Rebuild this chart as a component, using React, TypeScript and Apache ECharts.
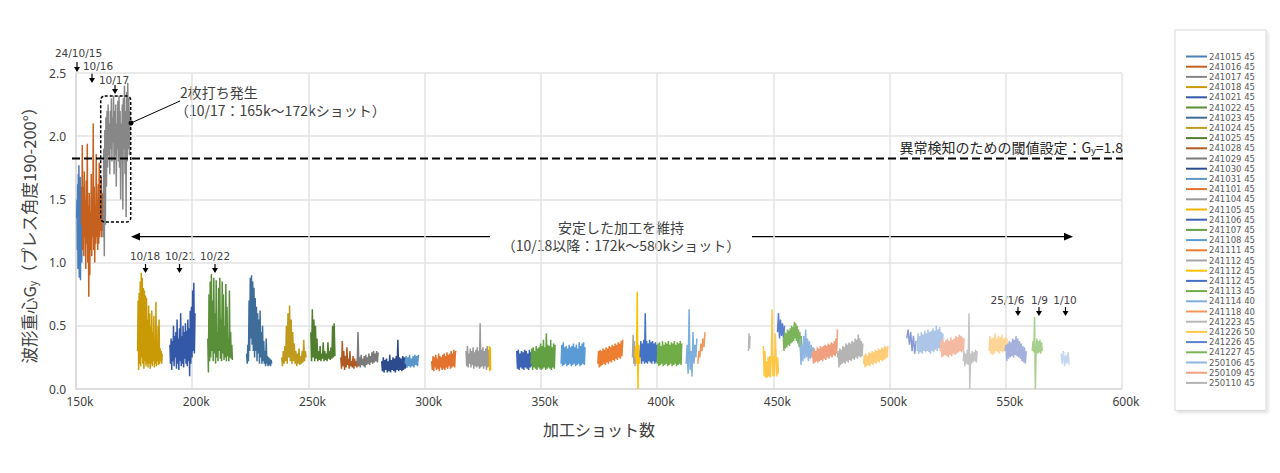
import { useEffect, useRef } from "react";
import * as echarts from "echarts";

// ---------- data ----------
const X_MIN = 150;
const X_MAX = 600;
const X_STEP = 50;
const Y_MIN = 0;
const Y_MAX = 2.5;
const Y_STEP = 0.5;

const SERIES_NAMES = [
  "241015 45", "241016 45", "241017 45", "241018 45", "241021 45", "241022 45",
  "241023 45", "241024 45", "241025 45", "241028 45", "241029 45", "241030 45",
  "241031 45", "241101 45", "241104 45", "241105 45", "241106 45", "241107 45",
  "241108 45", "241111 45", "241112 45|a", "241112 45|b", "241112 45|c", "241113 45",
  "241114 40", "241118 40", "241223 45", "241226 50", "241226 45", "241227 45",
  "250106 45", "250109 45", "250110 45",
  "s34", "s35", "s36", "s37", "s38", "s39", "s40", "s41", "s42",
];
const LEGEND_COUNT = 33;

// shot range of each series, in thousands of shots
const SHOT_RANGES: [number, number][] = [
  [150.3, 152.9], [152.5, 161.7], [161.7, 173.2], [176.5, 187.1], [190.4, 201.2], [206.7, 217.3],
  [223.4, 234.2], [238.5, 249.0], [251.0, 261.4], [263.9, 271.5], [271.0, 280.0], [281.5, 292.3],
  [291.6, 297.3], [303.0, 313.5], [317.8, 327.8], [327.8, 328.4], [339.6, 346.1], [345.8, 356.1],
  [358.7, 369.0], [374.5, 385.2], [389.4, 390.8], [390.5, 392.7], [392.7, 399.9], [400.1, 410.6],
  [412.5, 417.1], [417.5, 420.6], [439.3, 440.0], [445.7, 452.2], [451.8, 454.8], [454.3, 462.3],
  [461.5, 467.5], [466.6, 477.6], [477.6, 488.5],
  [488.8, 499.3], [507.4, 511.4], [511.9, 523.0], [521.8, 532.1], [531.7, 537.7], [542.8, 550.6],
  [549.7, 558.8], [561.4, 565.7], [573.8, 577.3],
];

const G241015 = [1.35, 1.5, 1.1, 1.62, 0.95, 1.7, 1.2, 1.77, 0.88, 1.55, 1.05, 1.68, 0.86, 1.45, 1.15, 1.6, 1.0, 1.5, 1.2, 1.4];
const G241016 = [1.3, 1.93, 1.1, 1.6, 1.05, 1.72, 1.2, 1.5, 0.95, 1.65, 1.15, 1.94, 1.0, 1.45, 0.73, 1.55, 0.9, 1.4, 1.1, 1.7, 1.05, 1.5, 1.2, 2.1, 1.1, 1.6, 1.0, 1.45, 1.15, 1.86, 1.2, 1.5, 1.1, 1.62, 1.15, 1.79, 1.2, 1.5, 1.25, 1.68, 1.2, 1.55, 1.25, 1.45];
const G241017 = [1.2, 1.9, 1.05, 2.05, 1.3, 2.15, 1.6, 2.2, 1.75, 2.25, 1.85, 2.1, 1.7, 2.2, 1.9, 2.3, 1.8, 2.15, 1.95, 2.32, 1.7, 2.2, 1.85, 2.25, 1.6, 2.1, 1.9, 2.28, 1.8, 2.32, 1.75, 2.2, 1.5, 2.1, 1.85, 2.25, 1.42, 2.3, 1.9, 2.4, 1.7, 2.2, 1.36, 2.35, 1.8, 2.42, 1.9, 2.3, 1.85, 2.2];
const G241018 = [0.3, 0.7, 0.15, 0.76, 0.2, 0.85, 0.18, 0.92, 0.25, 0.88, 0.2, 0.8, 0.16, 0.78, 0.22, 0.74, 0.18, 0.72, 0.2, 0.55, 0.17, 0.66, 0.2, 0.6, 0.16, 0.5, 0.2, 0.62, 0.18, 0.45, 0.22, 0.58, 0.17, 0.4, 0.2, 0.69, 0.18, 0.35, 0.22, 0.5, 0.19, 0.55, 0.2, 0.32, 0.22, 0.3, 0.2, 0.28];
const G241021 = [0.35, 0.2, 0.4, 0.15, 0.38, 0.22, 0.5, 0.18, 0.42, 0.25, 0.45, 0.16, 0.55, 0.2, 0.4, 0.15, 0.48, 0.22, 0.6, 0.18, 0.42, 0.2, 0.5, 0.17, 0.45, 0.24, 0.52, 0.2, 0.46, 0.18, 0.55, 0.22, 0.48, 0.1, 0.62, 0.2, 0.65, 0.25, 0.78, 0.3, 0.84, 0.28, 0.6];
const G241022 = [0.4, 0.13, 0.75, 0.22, 0.85, 0.25, 0.91, 0.3, 0.7, 0.22, 0.88, 0.28, 0.6, 0.2, 0.86, 0.25, 0.45, 0.22, 0.8, 0.3, 0.88, 0.24, 0.55, 0.22, 0.85, 0.28, 0.75, 0.23, 0.5, 0.25, 0.83, 0.22, 0.65, 0.26, 0.4, 0.22, 0.78, 0.25, 0.45, 0.24, 0.35, 0.23];
const G241023 = [0.28, 0.2, 0.35, 0.22, 0.7, 0.3, 0.88, 0.4, 0.9, 0.35, 0.85, 0.3, 0.8, 0.25, 0.72, 0.3, 0.65, 0.22, 0.6, 0.28, 0.55, 0.2, 0.62, 0.25, 0.45, 0.2, 0.5, 0.22, 0.38, 0.2, 0.3, 0.18, 0.4, 0.2, 0.26, 0.18, 0.25, 0.19, 0.24, 0.18, 0.23, 0.2];
const G241024 = [0.25, 0.18, 0.3, 0.2, 0.34, 0.22, 0.5, 0.2, 0.6, 0.25, 0.66, 0.22, 0.55, 0.2, 0.45, 0.22, 0.36, 0.2, 0.3, 0.18, 0.28, 0.2, 0.32, 0.19, 0.26, 0.2, 0.3, 0.21, 0.39, 0.22, 0.3, 0.25];
const G241025 = [0.45, 0.22, 0.63, 0.25, 0.55, 0.22, 0.5, 0.24, 0.4, 0.22, 0.3, 0.23, 0.34, 0.22, 0.28, 0.24, 0.37, 0.22, 0.3, 0.23, 0.28, 0.22, 0.37, 0.24, 0.3, 0.23, 0.33, 0.24, 0.5, 0.25, 0.52, 0.26];
const G241028 = [0.25, 0.16, 0.38, 0.18, 0.3, 0.15, 0.26, 0.17, 0.33, 0.19, 0.24, 0.16, 0.3, 0.18, 0.22, 0.17, 0.26, 0.16, 0.24, 0.18, 0.22, 0.17, 0.24, 0.18];
const G241029 = [0.2, 0.45, 0.18, 0.25, 0.17, 0.27, 0.19, 0.24, 0.18, 0.26, 0.17, 0.27, 0.19, 0.25, 0.2, 0.28, 0.19, 0.26, 0.21, 0.29, 0.2, 0.3, 0.21, 0.28, 0.22, 0.3, 0.21, 0.29];
const G241030 = [0.22, 0.14, 0.25, 0.13, 0.23, 0.15, 0.24, 0.13, 0.22, 0.14, 0.27, 0.13, 0.23, 0.15, 0.25, 0.14, 0.24, 0.13, 0.26, 0.15, 0.39, 0.14, 0.25, 0.15, 0.24, 0.14, 0.26, 0.15, 0.25, 0.16, 0.24, 0.17];
const G241031 = [0.2, 0.26, 0.17, 0.25, 0.18, 0.27, 0.17, 0.24, 0.18, 0.26, 0.17, 0.27, 0.19, 0.26, 0.18, 0.27];
const G241101 = [0.22, 0.15, 0.26, 0.14, 0.25, 0.17, 0.27, 0.15, 0.24, 0.16, 0.28, 0.14, 0.26, 0.17, 0.25, 0.15, 0.27, 0.16, 0.28, 0.15, 0.26, 0.17, 0.29, 0.16, 0.27, 0.18, 0.28, 0.16, 0.3, 0.17, 0.28, 0.18, 0.31, 0.17, 0.29, 0.3];
const G241104 = [0.3, 0.18, 0.34, 0.17, 0.28, 0.2, 0.32, 0.17, 0.3, 0.19, 0.33, 0.16, 0.29, 0.18, 0.31, 0.17, 0.33, 0.18, 0.3, 0.16, 0.52, 0.17, 0.31, 0.18, 0.33, 0.16, 0.3, 0.18, 0.32, 0.15, 0.34, 0.17, 0.31, 0.18];
const G241105 = [0.34, 0.14, 0.33, 0.15];
const G241106 = [0.3, 0.16, 0.31, 0.15, 0.28, 0.17, 0.3, 0.16, 0.29, 0.15, 0.31, 0.17, 0.3, 0.16, 0.28, 0.15, 0.31, 0.17, 0.29, 0.18];
const G241107 = [0.2, 0.32, 0.15, 0.33, 0.17, 0.3, 0.16, 0.34, 0.15, 0.32, 0.17, 0.33, 0.16, 0.36, 0.15, 0.34, 0.16, 0.39, 0.17, 0.33, 0.15, 0.44, 0.16, 0.35, 0.17, 0.34, 0.16, 0.39, 0.15, 0.33, 0.17, 0.36, 0.16, 0.35];
const G241108 = [0.2, 0.35, 0.18, 0.37, 0.19, 0.33, 0.2, 0.34, 0.18, 0.32, 0.19, 0.35, 0.2, 0.33, 0.18, 0.34, 0.19, 0.36, 0.2, 0.33, 0.18, 0.35, 0.19, 0.32, 0.2, 0.37, 0.18, 0.34, 0.19, 0.36, 0.2, 0.37, 0.19, 0.33];
const G241111 = [0.2, 0.3, 0.17, 0.31, 0.18, 0.3, 0.19, 0.32, 0.2, 0.31, 0.19, 0.33, 0.21, 0.32, 0.2, 0.34, 0.22, 0.33, 0.21, 0.35, 0.23, 0.34, 0.22, 0.36, 0.24, 0.35, 0.23, 0.37, 0.25, 0.36, 0.24, 0.38, 0.26, 0.39];
const G241112A = [0.25, 0.43, 0.2, 0.38, 0.18, 0.3];
const G241112B = [0.25, 0.34, 0.2, 0.77, 0.0, 0.35, 0.2, 0.3];
const G241112C = [0.25, 0.38, 0.2, 0.36, 0.22, 0.39, 0.2, 0.6, 0.21, 0.38, 0.2, 0.36, 0.22, 0.39, 0.21, 0.37, 0.2, 0.38, 0.22, 0.36, 0.2, 0.37, 0.21, 0.35];
const G241113 = [0.2, 0.36, 0.18, 0.37, 0.19, 0.34, 0.2, 0.38, 0.18, 0.35, 0.19, 0.37, 0.2, 0.36, 0.18, 0.38, 0.19, 0.35, 0.2, 0.37, 0.18, 0.36, 0.19, 0.38, 0.2, 0.35, 0.18, 0.37, 0.19, 0.36, 0.2, 0.38, 0.19, 0.36];
const G241114 = [0.2, 0.35, 0.12, 0.63, 0.15, 0.3, 0.1, 0.45, 0.2, 0.35, 0.25, 0.4];
const G241118 = [0.2, 0.3, 0.25, 0.36, 0.3, 0.4, 0.33, 0.45];
const G241223 = [0.3, 0.44, 0.32, 0.42];
const G241226_50 = [0.34, 0.1, 0.3, 0.09, 0.22, 0.09, 0.25, 0.1, 0.26, 0.09, 0.25, 0.63, 0.1, 0.26, 0.1, 0.44, 0.26, 0.1, 0.25, 0.12];
const G241226_45 = [0.45, 0.6, 0.4, 0.55, 0.42, 0.52, 0.4, 0.5];
const G241227 = [0.4, 0.3, 0.45, 0.32, 0.44, 0.33, 0.47, 0.35, 0.46, 0.34, 0.48, 0.36, 0.5, 0.37, 0.49, 0.38, 0.53, 0.4, 0.52, 0.38, 0.5, 0.36, 0.47, 0.33, 0.45, 0.3, 0.42, 0.29];
const G250106 = [0.4, 0.19, 0.35, 0.22, 0.42, 0.24, 0.47, 0.25, 0.4, 0.22, 0.38, 0.24, 0.35, 0.25, 0.33, 0.26];
const G250109 = [0.25, 0.3, 0.2, 0.32, 0.21, 0.3, 0.22, 0.33, 0.21, 0.32, 0.22, 0.34, 0.23, 0.33, 0.22, 0.34, 0.24, 0.35, 0.23, 0.34, 0.25, 0.36, 0.24, 0.35, 0.26, 0.37, 0.25, 0.36, 0.27, 0.38, 0.26, 0.4, 0.28, 0.47];
const G250110 = [0.25, 0.3, 0.17, 0.32, 0.19, 0.31, 0.2, 0.34, 0.21, 0.33, 0.2, 0.36, 0.22, 0.35, 0.21, 0.37, 0.23, 0.36, 0.22, 0.38, 0.24, 0.37, 0.23, 0.4, 0.25, 0.39, 0.24, 0.43, 0.26, 0.4, 0.25, 0.38, 0.26, 0.36];
const G_S34 = [0.2, 0.27, 0.17, 0.28, 0.18, 0.26, 0.19, 0.29, 0.18, 0.28, 0.2, 0.3, 0.19, 0.29, 0.21, 0.31, 0.2, 0.3, 0.22, 0.32, 0.21, 0.31, 0.23, 0.33, 0.22, 0.32, 0.23, 0.34, 0.24, 0.33, 0.25, 0.34];
const G_S35 = [0.4, 0.47, 0.35, 0.45, 0.3, 0.42, 0.28, 0.38];
const G_S36 = [0.3, 0.44, 0.28, 0.42, 0.29, 0.45, 0.28, 0.43, 0.3, 0.46, 0.29, 0.44, 0.3, 0.47, 0.29, 0.45, 0.28, 0.46, 0.3, 0.48, 0.29, 0.46, 0.31, 0.5, 0.3, 0.47, 0.32, 0.49, 0.31, 0.45, 0.32, 0.44];
const G_S37 = [0.3, 0.38, 0.25, 0.4, 0.26, 0.37, 0.27, 0.39, 0.26, 0.4, 0.25, 0.38, 0.27, 0.41, 0.26, 0.39, 0.28, 0.4, 0.27, 0.42, 0.28, 0.41, 0.29, 0.43, 0.3, 0.42, 0.29, 0.41, 0.3, 0.4];
const G_S38 = [0.22, 0.3, 0.18, 0.28, 0.2, 0.31, 0.19, 0.6, 0.0, 0.28, 0.2, 0.3, 0.21, 0.29, 0.22, 0.31, 0.21, 0.3];
const G_S39 = [0.3, 0.42, 0.28, 0.4, 0.27, 0.41, 0.28, 0.44, 0.3, 0.4, 0.29, 0.42, 0.28, 0.41, 0.3, 0.43, 0.29, 0.4, 0.3, 0.41, 0.31, 0.4];
const G_S40 = [0.3, 0.35, 0.22, 0.36, 0.24, 0.38, 0.25, 0.37, 0.26, 0.4, 0.25, 0.39, 0.27, 0.42, 0.26, 0.4, 0.25, 0.38, 0.24, 0.36, 0.22, 0.34, 0.21, 0.33, 0.2, 0.3];
const G_S41 = [0.3, 0.38, 0.29, 0.57, 0.0, 0.3, 0.4, 0.28, 0.38, 0.29, 0.39, 0.28, 0.37, 0.3];
const G_S42 = [0.28, 0.2, 0.3, 0.18, 0.27, 0.2, 0.29, 0.19];

const SERIES_VALUES = [
  G241015, G241016, G241017, G241018, G241021, G241022, G241023, G241024, G241025,
  G241028, G241029, G241030, G241031, G241101, G241104, G241105, G241106, G241107,
  G241108, G241111, G241112A, G241112B, G241112C, G241113, G241114, G241118, G241223,
  G241226_50, G241226_45, G241227, G250106, G250109, G250110,
  G_S34, G_S35, G_S36, G_S37, G_S38, G_S39, G_S40, G_S41, G_S42,
];

const THRESHOLD = 1.8;
const DATE_LABELS_TOP = ["24/10/15", "10/16", "10/17"];
const DATE_LABELS_MID = ["10/18", "10/21", "10/22"];
const DATE_LABELS_END = ["25/1/6", "1/9", "1/10"];

// ---------- styles ----------
const COLORS = [
  "#4a7ebb", "#c5601e", "#878787", "#c99a06", "#3358a8", "#5a8f3a",
  "#3e6d99", "#c09a1c", "#4f7f2e", "#b05a24", "#7a7a7a", "#2c4b8e",
  "#5b96cc", "#e2722e", "#9a9a9a", "#f0b400", "#3b62b5", "#62a043",
  "#5b9bd5", "#ed7d31", "#a5a5a5", "#ffc000", "#4472c4", "#70ad47",
  "#7cafdd", "#f1975a", "#b7b7b7", "#ffc748", "#5a7fcd", "#7cb45a",
  "#8fb5e0", "#f0a07e", "#b4b4b4",
  "#ffcc77", "#8a9bd4", "#adc6e8", "#f4bba2", "#c4c4c4", "#ffd597", "#a6b0dd", "#a8d08d", "#c5d6ef",
];

const JP = '"Noto Sans CJK JP", "Noto Sans", sans-serif';
const LAT = '"Noto Sans", "Noto Sans CJK JP", sans-serif';
const DJ = '"DejaVu Sans", "Noto Sans", sans-serif';
const TXT = "#404040";

function t(x: number, y: number, text: string, size: number, align = "center", family = JP, lh = size + 1) {
  return {
    type: "text",
    x,
    y,
    silent: true,
    style: {
      text,
      fill: TXT,
      fontSize: size,
      fontFamily: family,
      lineHeight: lh,
      align,
      textAlign: align,
      verticalAlign: "middle",
      textVerticalAlign: "middle",
    },
  };
}

function downArrow(x: number, y1: number, y2: number) {
  return [
    { type: "line", silent: true, shape: { x1: x, y1, x2: x, y2: y2 - 4 }, style: { stroke: "#000", lineWidth: 1.2 } },
    { type: "polygon", silent: true, shape: { points: [[x - 3, y2 - 5], [x + 3, y2 - 5], [x, y2]] }, style: { fill: "#000" } },
  ];
}

export default function App() {
  const ref = useRef<HTMLDivElement>(null);

  useEffect(() => {
    if (!ref.current) return;
    const chart = echarts.init(ref.current, undefined, { renderer: "svg" });

    const series = SERIES_NAMES.map((name, i) => {
      const [s, e] = SHOT_RANGES[i];
      const vals = SERIES_VALUES[i];
      const n = vals.length;
      return {
        type: "line",
        name,
        symbol: "none",
        showSymbol: false,
        silent: true,
        data: vals.map((v, j) => [s + ((e - s) * j) / (n - 1), v]),
        lineStyle: { width: 1.5, color: COLORS[i] },
        itemStyle: { color: COLORS[i] },
        emphasis: { disabled: true },
        z: 2,
      };
    });

    const graphic: any[] = [];
    // top-left date markers
    graphic.push(t(78.5, 52.5, DATE_LABELS_TOP[0], 10.5, "center", DJ, 11));
    graphic.push(...downArrow(77, 62, 72));
    graphic.push(t(98, 66, DATE_LABELS_TOP[1], 10.5, "center", DJ, 11));
    graphic.push(...downArrow(92, 73, 83));
    graphic.push(t(114, 80, DATE_LABELS_TOP[2], 10.5, "center", DJ, 11));
    graphic.push(...downArrow(115, 85, 94));
    // middle date markers
    graphic.push(t(145, 255.5, DATE_LABELS_MID[0], 10.5, "center", DJ, 11));
    graphic.push(...downArrow(145.5, 264, 273));
    graphic.push(t(180, 255.5, DATE_LABELS_MID[1], 10.5, "center", DJ, 11));
    graphic.push(...downArrow(179.5, 264, 273));
    graphic.push(t(215, 255.5, DATE_LABELS_MID[2], 10.5, "center", DJ, 11));
    graphic.push(...downArrow(215, 264, 273));
    // end date markers
    graphic.push(t(1007.5, 299.5, DATE_LABELS_END[0], 10.5, "center", DJ, 11));
    graphic.push(...downArrow(1018, 307, 316));
    graphic.push(t(1039.5, 299.5, DATE_LABELS_END[1], 10.5, "center", DJ, 11));
    graphic.push(...downArrow(1039, 307, 316));
    graphic.push(t(1065, 299.5, DATE_LABELS_END[2], 10.5, "center", DJ, 11));
    graphic.push(...downArrow(1065.5, 307, 316));

    // dashed box around the double-feed region
    graphic.push({
      type: "rect",
      silent: true,
      shape: { x: 100.7, y: 96, width: 30, height: 126, r: 4 },
      style: { fill: "none", stroke: "#000", lineWidth: 1.5, lineDash: [3, 2] },
      z: 10,
    });
    graphic.push({
      type: "line",
      silent: true,
      shape: { x1: 131, y1: 123, x2: 180, y2: 101 },
      style: { stroke: "#000", lineWidth: 1 },
      z: 10,
    });
    graphic.push({ type: "circle", silent: true, shape: { cx: 131, cy: 123, r: 2.5 }, style: { fill: "#000" }, z: 10 });
    graphic.push(t(180, 92, "2枚打ち発生", 14, "left", JP, 15));
    graphic.push(t(175, 110, "（10/17：165k～172kショット）", 14, "left", JP, 15));

    // threshold line
    graphic.push({
      type: "line",
      silent: true,
      shape: { x1: 72, y1: 158.5, x2: 1123, y2: 158.5 },
      style: { stroke: "#000", lineWidth: 2, lineDash: [8, 4] },
      z: 10,
    });
    graphic.push({
      type: "text",
      x: 1123,
      y: 146.5,
      silent: true,
      style: {
        text: "{a|異常検知のための閾値設定：G}{s|y}{a|=" + THRESHOLD.toFixed(1) + "}",
        align: "right",
        textAlign: "right",
        verticalAlign: "middle",
        textVerticalAlign: "middle",
        rich: {
          a: { fontSize: 14, fontFamily: JP, fill: "#262626", color: "#262626", lineHeight: 16 },
          s: { fontSize: 9, fontFamily: LAT, fill: "#262626", color: "#262626", verticalAlign: "bottom", lineHeight: 16, padding: [7, 0, 0, 0] },
        },
      },
      z: 10,
    });

    // two-way arrow for the stable period
    graphic.push({ type: "line", silent: true, shape: { x1: 138, y1: 236.7, x2: 490, y2: 236.7 }, style: { stroke: "#000", lineWidth: 1.3 } });
    graphic.push({ type: "polygon", silent: true, shape: { points: [[131, 236.7], [140, 232.8], [140, 240.6]] }, style: { fill: "#000" } });
    graphic.push({ type: "line", silent: true, shape: { x1: 752, y1: 236.7, x2: 1066, y2: 236.7 }, style: { stroke: "#000", lineWidth: 1.3 } });
    graphic.push({ type: "polygon", silent: true, shape: { points: [[1073, 236.7], [1064, 232.8], [1064, 240.6]] }, style: { fill: "#000" } });
    graphic.push(t(621, 226.5, "安定した加工を維持", 14, "center", JP, 15));
    graphic.push(t(621, 245, "（10/18以降：172k～580kショット）", 14, "center", JP, 15));

    chart.setOption({
      animation: false,
      backgroundColor: "#ffffff",
      textStyle: { fontFamily: LAT },
      grid: { left: 76, top: 73, width: 1046, height: 316, containLabel: false, outerBoundsMode: "none" },
      tooltip: { show: false },
      legend: {
        show: true,
        data: SERIES_NAMES.slice(0, LEGEND_COUNT),
        orient: "vertical",
        left: 1175,
        top: 30,
        padding: [22, 11, 23, 11],
        itemGap: 1.2,
        itemWidth: 21,
        itemHeight: 2,
        icon: "rect",
        backgroundColor: "#ffffff",
        borderColor: "#d9d9d9",
        borderWidth: 1,
        shadowColor: "rgba(0,0,0,0.12)",
        shadowBlur: 3,
        shadowOffsetX: 2,
        shadowOffsetY: 2,
        selectedMode: false,
        formatter: (name: string) => name.split("|")[0],
        textStyle: { fontSize: 8.5, fontFamily: '"DejaVu Sans", sans-serif', color: "#595959", lineHeight: 8, padding: [0, 0, 0, -3] },
      },
      xAxis: {
        type: "value",
        min: X_MIN,
        max: X_MAX,
        interval: X_STEP,
        name: "加工ショット数",
        nameLocation: "middle",
        nameGap: 32,
        nameTextStyle: { fontSize: 16, fontFamily: JP, color: TXT },
        axisLine: { show: true, lineStyle: { color: "#d9d9d9", width: 1.5 } },
        axisTick: { show: false },
        axisLabel: { formatter: (v: number) => `${v}k`, fontSize: 12, fontFamily: LAT, color: TXT, margin: 6, lineHeight: 12, padding: [0, 0, 0, 8] },
        splitLine: { show: true, lineStyle: { color: "#e3e3e3", width: 1.5 } },
      },
      yAxis: {
        type: "value",
        min: Y_MIN,
        max: Y_MAX,
        interval: Y_STEP,
        name: "{a|波形重心G}{s|y}{a|（プレス角度190-200°）}",
        nameLocation: "middle",
        nameGap: 32,
        nameTextStyle: {
          color: TXT,
          rich: {
            a: { fontSize: 16.5, fontFamily: JP, color: TXT, lineHeight: 18 },
            s: { fontSize: 10, fontFamily: LAT, color: TXT, verticalAlign: "bottom", lineHeight: 18, padding: [8, 0, 0, 0] },
          },
        },
        axisLine: { show: true, lineStyle: { color: "#d9d9d9", width: 1.5 } },
        axisTick: { show: false },
        axisLabel: { formatter: (v: number) => v.toFixed(1), fontSize: 12, fontFamily: LAT, color: TXT, margin: 10, lineHeight: 12 },
        splitLine: { show: true, lineStyle: { color: "#e3e3e3", width: 1.5 } },
      },
      series,
      graphic,
    });

    return () => chart.dispose();
  }, []);

  return (
    <div
      ref={ref}
      style={{ position: "relative", left: -8, top: -8, width: 1280, height: 473, background: "#fff" }}
    />
  );
}
